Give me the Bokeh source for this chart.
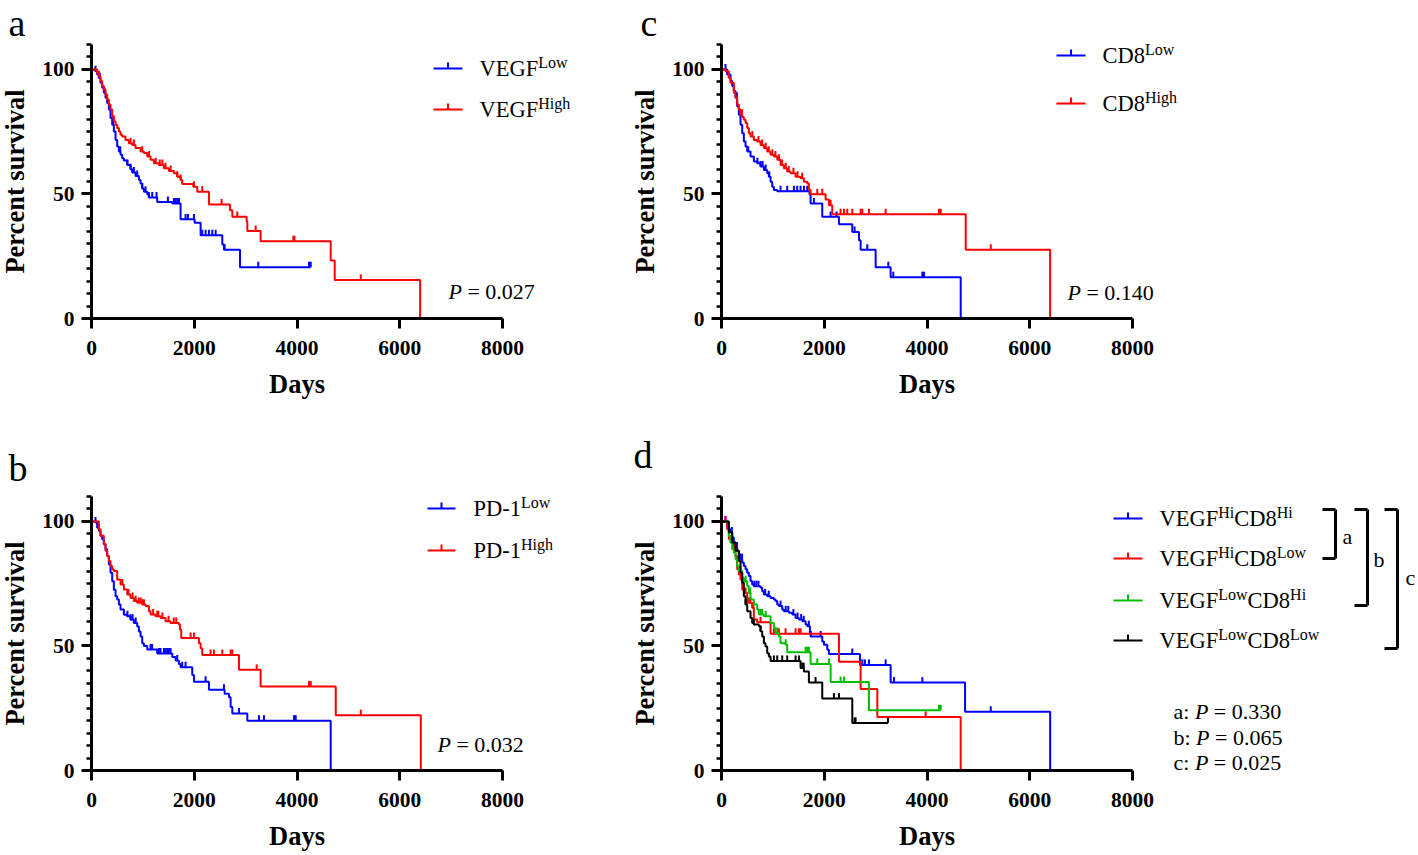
import numpy as np
from bokeh.plotting import figure
from bokeh.models import Range1d, FixedTicker, Label, Arrow
from bokeh.layouts import row, column
from bokeh.embed import file_html
from bokeh.resources import INLINE

# ------------------------------------------------------------------ data
# Panel a : VEGF
vegf_low_t = [0, 78, 110, 143, 175, 208, 240, 273, 305, 338, 370, 403, 435, 468, 500, 533, 565, 597, 630, 695,
              760, 792, 857, 922, 955, 987, 1020, 1085, 1117, 1279, 1572, 1734, 2007, 2124, 2546, 2578, 2890, 4267]
vegf_low_s = [100, 99.3, 98.0, 96.6, 94.6, 92.6, 90.6, 88.6, 86.5, 83.9, 80.5, 77.8, 75.1, 71.7, 69.1, 67.0, 65.7, 64.3, 63.4, 61.6,
              59.9, 58.6, 57.2, 55.6, 54.2, 52.2, 50.9, 49.9, 48.6, 46.8, 46.2, 39.8, 38.4, 33.4, 29.7, 27.6, 20.6, 20.6]
vegf_low_c = [78, 160, 250, 420, 560, 700, 760, 825, 890, 987, 1052, 1117, 1182, 1266, 1487, 1604, 1636, 1669, 1701,
              1831, 1877, 1994, 2156, 2221, 2286, 2351, 2416, 2591, 3247, 4234, 4267]
vegf_high_t = [0, 110, 143, 175, 208, 240, 273, 305, 338, 370, 403, 435, 468, 500, 533, 565, 597, 662, 727, 792,
               857, 955, 1020, 1085, 1149, 1214, 1312, 1409, 1507, 1604, 1669, 1734, 1766, 1981, 2059, 2286, 2695, 2741, 3020, 3033,
               3292, 4656, 4734, 6397]
vegf_high_s = [100, 98.6, 97.3, 95.3, 93.3, 91.9, 89.9, 87.9, 85.9, 83.9, 81.2, 79.1, 77.8, 76.5, 75.1, 73.8, 73.1, 71.7, 70.4, 69.7,
               68.4, 67.0, 66.4, 65.0, 63.7, 62.3, 61.6, 60.3, 59.2, 58.3, 56.9, 55.6, 54.0, 52.9, 50.9, 45.8, 43.5, 40.8, 38.8, 35.1,
               31.0, 23.3, 15.5, 0]
vegf_high_c = [143, 435, 760, 825, 987, 1120, 1250, 1330, 1380, 1440, 1540, 1669, 1734, 1994, 2156, 2533, 2838, 3195,
               3930, 3950, 5241]

# Panel b : PD-1
pd1_low_t = [0, 78, 110, 143, 175, 208, 240, 273, 305, 338, 370, 403, 435, 468, 500, 533, 565, 630, 695, 760,
             825, 890, 922, 955, 987, 1020, 1085, 1279, 1572, 1637, 1701, 1734, 1961, 1994, 2286, 2591, 2676, 2708, 2741, 3033,
             4656]
pd1_low_s = [100, 99.6, 97.5, 96.2, 94.2, 92.8, 90.8, 88.8, 86.1, 82.7, 79.4, 76.0, 72.6, 70.0, 68.6, 66.6, 64.6, 62.5, 61.9, 60.5,
             59.2, 57.8, 55.8, 53.8, 51.1, 50.0, 48.6, 47.0, 45.6, 44.2, 42.8, 41.5, 38.3, 35.6, 32.4, 30.8, 29.4, 25.5, 22.9, 20.0,
             0]
pd1_low_c = [78, 700, 760, 800, 860, 1150, 1180, 1312, 1344, 1409, 1442, 1474, 1507, 1539, 1669, 1766, 1831, 2221, 2578,
             2870, 3260, 3357, 3942, 3974]
pd1_high_t = [0, 143, 175, 240, 273, 305, 338, 370, 403, 435, 500, 565, 630, 695, 760, 825, 890, 987, 1052, 1117,
              1149, 1247, 1344, 1442, 1539, 1701, 1721, 1747, 2091, 2124, 2156, 2870, 3292, 4754, 6410]
pd1_high_s = [100, 96.9, 94.2, 90.9, 88.2, 86.1, 84.1, 82.1, 80.8, 80.1, 76.7, 74.7, 72.7, 70.7, 69.3, 68.0, 67.3, 66.6, 66.0, 63.9,
              62.6, 61.9, 61.2, 59.9, 59.2, 58.6, 56.5, 53.2, 51.1, 49.1, 46.4, 40.4, 33.7, 22.2, 0]
pd1_high_c = [143, 600, 720, 800, 860, 920, 960, 1000, 1020, 1200, 1280, 1300, 1380, 1500, 1600, 1650, 1929, 1994,
              2318, 2383, 2546, 2708, 2741, 3215, 4234, 4267, 5241]

# Panel c : CD8
cd8_low_t = [0, 110, 175, 208, 240, 273, 305, 338, 370, 403, 435, 468, 500, 565, 630, 695, 760, 825, 890, 922,
             955, 987, 1020, 1085, 1714, 1734, 1961, 2286, 2546, 2676, 2708, 3000, 3292, 4656]
cd8_low_s = [100, 98.0, 95.3, 93.3, 91.3, 88.6, 85.2, 81.8, 77.8, 74.4, 71.1, 69.1, 67.0, 65.0, 63.0, 62.3, 61.0, 59.6, 58.3, 56.9,
             54.9, 52.9, 51.6, 51.1, 49.9, 46.2, 40.8, 37.8, 34.7, 31.4, 27.6, 20.6, 16.6, 0]
cd8_low_c = [78, 300, 520, 700, 760, 800, 860, 930, 1150, 1279, 1409, 1474, 1539, 1604, 1669, 1799, 2124, 2240, 2591,
             2838, 3247, 3344, 3909, 3942]
cd8_high_t = [0, 78, 143, 175, 240, 273, 305, 338, 370, 403, 435, 468, 500, 533, 565, 630, 695, 760, 825, 890,
              955, 1020, 1085, 1149, 1214, 1279, 1344, 1442, 1539, 1604, 1669, 1701, 1734, 2026, 2091, 2156, 4754, 6397]
cd8_high_s = [100, 99.3, 96.6, 94.6, 90.6, 88.6, 85.9, 83.9, 81.8, 80.9, 79.8, 78.5, 76.5, 74.4, 73.1, 71.7, 71.1, 69.7, 68.4, 67.0,
              65.7, 65.0, 63.7, 61.6, 60.3, 59.0, 58.3, 56.9, 56.3, 54.9, 54.2, 51.6, 49.9, 47.8, 45.5, 41.9, 27.6, 0]
cd8_high_c = [143, 400, 600, 720, 790, 860, 920, 990, 1050, 1120, 1180, 1250, 1310, 1400, 1480, 1570, 1864, 1961, 2124,
              2318, 2383, 2448, 2546, 2708, 2741, 2870, 3195, 4234, 4267, 5241]

# Panel d : VEGF x CD8
hi_hi_t = [0, 110, 143, 175, 208, 240, 273, 305, 338, 370, 403, 435, 468, 500, 533, 565, 597, 630, 760, 792,
           825, 890, 955, 1020, 1052, 1085, 1117, 1182, 1214, 1312, 1377, 1442, 1507, 1572, 1637, 1669, 1721, 1734, 1961, 1994,
           2059, 2091, 2695, 3292, 4741, 6397]
hi_hi_s = [100, 98.3, 96.9, 95.6, 93.5, 91.5, 89.5, 88.2, 86.8, 84.8, 83.5, 82.1, 80.8, 79.4, 78.1, 76.1, 74.7, 74.0, 73.4, 72.0,
           70.7, 70.0, 69.3, 68.6, 68.0, 66.6, 66.0, 64.6, 63.9, 63.3, 62.6, 61.2, 60.6, 59.9, 58.6, 57.9, 55.2, 53.8, 51.8, 50.5,
           48.5, 46.8, 42.4, 35.3, 23.6, 0]
hi_hi_c = [78, 200, 300, 400, 640, 680, 720, 850, 920, 1150, 1250, 1300, 1400, 1480, 1550, 1600, 1700, 1740, 1930,
           2546, 2741, 2790, 2870, 3195, 3357, 3909, 5241]
hi_low_t = [0, 110, 143, 208, 240, 273, 305, 338, 370, 403, 435, 500, 597, 630, 695, 955, 2286, 2708, 3033, 4656]
hi_low_s = [100, 96.9, 92.9, 90.9, 89.5, 86.1, 80.8, 78.7, 76.7, 72.7, 71.3, 67.3, 65.3, 60.6, 59.5, 54.9, 43.7, 32.7, 21.5, 0]
hi_low_c = [78, 400, 470, 530, 560, 620, 760, 1020, 1117, 1247, 1442, 1507, 1539, 3974]
low_hi_t = [0, 143, 175, 208, 240, 273, 305, 338, 403, 435, 500, 533, 565, 630, 695, 727, 825, 955, 1020, 1052,
            1117, 1149, 1247, 1279, 1734, 2124, 2870, 4267]
low_hi_s = [100, 94.2, 91.5, 88.8, 87.5, 84.8, 82.1, 80.1, 77.4, 76.0, 74.0, 71.3, 68.6, 66.6, 64.6, 62.6, 61.9, 59.2, 57.2, 55.2,
            53.8, 51.1, 50.5, 47.5, 42.8, 35.5, 24.2, 24.2]
low_hi_c = [370, 470, 560, 760, 790, 860, 1085, 1250, 1637, 1669, 1701, 1864, 2091, 2318, 2383, 4234, 4267]
low_low_t = [0, 143, 208, 273, 338, 370, 403, 435, 468, 500, 565, 597, 630, 727, 760, 792, 825, 857, 890, 922,
             955, 1539, 1604, 1701, 1961, 2546, 3241]
low_low_s = [100, 95.6, 91.5, 88.2, 84.1, 79.4, 75.4, 70.0, 66.6, 63.9, 61.2, 59.2, 58.6, 57.9, 55.9, 53.8, 51.1, 49.8, 47.1, 45.8,
             44.0, 41.1, 39.7, 35.3, 28.9, 19.1, 19.1]
low_low_c = [470, 630, 760, 1020, 1085, 1182, 1279, 1442, 1507, 1572, 1600, 1831, 2188, 2286, 2591, 2610, 3241]

x_ticks = [0, 2000, 4000, 6000, 8000]
y_ticks = [0, 50, 100]
y_minor = list(range(0, 111, 5))
p_texts_abc = {"a": "0.027", "b": "0.032", "c": "0.140"}
p_texts_d = [("a", "0.330"), ("b", "0.065"), ("c", "0.025")]

BLUE, RED, GREEN, BLACK = "#0000FF", "#FF0000", "#00BF00", "#000000"
FONT = "Liberation Serif"
FW, FH = 411, 274          # axis extents in px (0..8000, 0..110)
XMAX, YMAX = 8000, 110
TICK = 2.2                 # censor tick height (percent units)
BASE_FIX = 0.34            # label baseline correction (em)
LETTER = 38                # panel letter font size

# Times-Roman advance widths (1/1000 em) for superscript placement
ADV = {'V': 722, 'E': 611, 'G': 722, 'F': 556, 'C': 667, 'D': 722, '8': 500, 'P': 556, '-': 333, '1': 500,
       'H': 722, 'i': 278, 'L': 611, 'o': 500, 'w': 722, 'g': 500, 'h': 500}


def tw(s, size):
    return sum(ADV[c] for c in s) * size / 1000.0


class Panel:
    """A figure whose frame fills its whole canvas; axes are fixed at x=0 / y=0."""

    def __init__(self, x0, x1, y0, y1, axis_x, axis_y):
        self.left, self.bottom = axis_x - x0, axis_y - y0     # axis origin inside the canvas
        w, h = x1 - x0, y1 - y0
        p = figure(width=w, height=h, output_backend="svg", toolbar_location=None,
                   x_range=Range1d(self.X(0), self.X(w)), y_range=Range1d(self.Y(h), self.Y(0)),
                   min_border_left=0, min_border_right=0, min_border_top=0, min_border_bottom=0)
        p.outline_line_color = None
        p.xgrid.visible = False
        p.ygrid.visible = False
        p.background_fill_color = "white"
        p.border_fill_color = "white"
        p.xaxis.ticker = FixedTicker(ticks=x_ticks)
        p.yaxis.ticker = FixedTicker(ticks=y_ticks, minor_ticks=y_minor)
        p.xaxis.axis_label = "Days"
        p.yaxis.axis_label = "Percent survival"
        p.xaxis.fixed_location = 0
        p.yaxis.fixed_location = 0
        p.xaxis.bounds = (0, XMAX)
        p.yaxis.bounds = (0, YMAX)
        for ax in (p.xaxis[0], p.yaxis[0]):
            ax.axis_line_width = 3
            ax.major_tick_line_width = 3
            ax.major_tick_in = 0
            ax.major_tick_out = 10
            ax.minor_tick_in = 0
            ax.minor_tick_out = 5
            ax.minor_tick_line_width = 2.5
            ax.major_label_text_font = FONT
            ax.major_label_text_font_style = "bold"
            ax.major_label_text_font_size = "21.5px"
            ax.major_label_text_color = "black"
            ax.axis_label_text_font = FONT
            ax.axis_label_text_font_style = "bold"
            ax.axis_label_text_font_size = "26.5px"
            ax.axis_label_text_color = "black"
        p.xaxis.minor_tick_line_color = None
        p.xaxis.major_label_standoff = 12
        p.xaxis.axis_label_standoff = 11
        p.yaxis.major_label_standoff = 7
        p.yaxis.axis_label_standoff = 9
        self.p = p
        self.ox, self.oy = x0, y0

    # canvas px (relative to this figure) -> data
    def X(self, xs):
        return (xs - self.left) / FW * XMAX

    def Y(self, ys):
        return (self.bottom - ys) / FH * YMAX

    # page px -> data
    def PX(self, xs):
        return self.X(xs - self.ox)

    def PY(self, ys):
        return self.Y(ys - self.oy)

    def km(self, t, s, cens, color):
        self.p.step(x=t, y=s, mode="after", line_color=color, line_width=2)
        t_arr = np.asarray(t, dtype=float)
        s_arr = np.asarray(s, dtype=float)
        c = np.asarray(cens, dtype=float)
        idx = np.searchsorted(t_arr, c, side="right") - 1
        cy = s_arr[idx]
        self.p.segment(x0=c, y0=cy, x1=c, y1=cy + TICK, line_color=color, line_width=2)

    def text(self, xs, ys, txt, size, style="normal", x_offset=0):
        # ys is the wanted alphabetic baseline (page px)
        self.p.add_layout(Label(x=self.PX(xs), y=self.PY(ys - BASE_FIX * size), text=txt, x_offset=x_offset,
                                text_font=FONT, text_font_size=f"{size}px", text_font_style=style,
                                text_align="left", text_baseline="alphabetic", text_color="black"))

    def line(self, x0, y0, x1, y1, color="black", width=2):
        self.p.add_layout(Arrow(start=None, end=None, x_start=self.PX(x0), y_start=self.PY(y0),
                                x_end=self.PX(x1), y_end=self.PY(y1), line_color=color, line_width=width))

    def legend_sample(self, x0, x1, ys, color):
        self.line(x0, ys, x1, ys, color, 2)
        xm = (x0 + x1) / 2
        self.line(xm, ys, xm, ys - 6, color, 2)

    def p_value(self, xs, ys, prefix, val, size=22):
        off = 0
        if prefix:
            self.text(xs, ys, prefix + ":", size)
            off = ({"a": 444, "b": 500, "c": 444}[prefix] + 278 + 250) * size / 1000
        self.text(xs, ys, "P", size, style="italic", x_offset=off)
        self.text(xs, ys, "= " + val, size, x_offset=off + (611 + 250) * size / 1000)

    def sup_label(self, xs, ys, parts, main=22.5, sup=16):
        off = 0
        for txt, is_sup in parts:
            if is_sup:
                self.text(xs, ys - 9, txt, sup, x_offset=off)
                off += tw(txt, sup)
            else:
                self.text(xs, ys, txt, main, x_offset=off)
                off += tw(txt, main)


# ------------------------------------------------------------------ layout
SPLIT_X, SPLIT_Y, W, H = 630, 430, 1418, 854
A = Panel(0, SPLIT_X, 0, SPLIT_Y, 91, 318)
C = Panel(SPLIT_X, W, 0, SPLIT_Y, 721, 318)
B = Panel(0, SPLIT_X, SPLIT_Y, H, 91, 770)
D = Panel(SPLIT_X, W, SPLIT_Y, H, 721, 770)

# curves
A.km(vegf_low_t, vegf_low_s, vegf_low_c, BLUE)
A.km(vegf_high_t, vegf_high_s, vegf_high_c, RED)
B.km(pd1_low_t, pd1_low_s, pd1_low_c, BLUE)
B.km(pd1_high_t, pd1_high_s, pd1_high_c, RED)
C.km(cd8_low_t, cd8_low_s, cd8_low_c, BLUE)
C.km(cd8_high_t, cd8_high_s, cd8_high_c, RED)
D.km(hi_hi_t, hi_hi_s, hi_hi_c, BLUE)
D.km(hi_low_t, hi_low_s, hi_low_c, RED)
D.km(low_hi_t, low_hi_s, low_hi_c, GREEN)
D.km(low_low_t, low_low_s, low_low_c, BLACK)

# panel letters (kept fully inside the canvas)
A.text(8, 35, "a", LETTER)
C.text(640, 35, "c", LETTER)
B.text(8, 480, "b", LETTER)
D.text(633, 467, "d", LETTER)

# legends
for P_, name, x0, x1, xt, rows in [
        (A, "VEGF", 433, 462, 479, (68, 109)),
        (B, "PD-1", 427, 455, 473, (508, 550)),
        (C, "CD8", 1056, 1085, 1102, (55, 103))]:
    for (ys, color, sup) in zip(rows, (BLUE, RED), ("Low", "High")):
        P_.legend_sample(x0, x1, ys, color)
        P_.sup_label(xt, ys + 8, [(name, False), (sup, True)])

d_rows = [(518, BLUE, "Hi", "Hi"), (558, RED, "Hi", "Low"), (600, GREEN, "Low", "Hi"), (640, BLACK, "Low", "Low")]
for ys, color, s1, s2 in d_rows:
    D.legend_sample(1113, 1142, ys, color)
    D.sup_label(1159, ys + 8, [("VEGF", False), (s1, True), ("CD8", False), (s2, True)])

# brackets
for (xa, xv, yb, lx, ly, letter) in [(1322, 1335, 558, 1342, 543, "a"),
                                     (1354, 1367, 605, 1373, 566, "b"),
                                     (1384, 1397, 648, 1405, 584, "c")]:
    D.line(xa, 509, xv, 509, width=3)
    D.line(xv, 509, xv, yb, width=3)
    D.line(xa, yb, xv, yb, width=3)
    D.text(lx, ly, letter, 22)

# p values
A.p_value(448, 298, None, p_texts_abc["a"])
B.p_value(437, 751, None, p_texts_abc["b"])
C.p_value(1067, 299, None, p_texts_abc["c"])
for (lab, val), ys in zip(p_texts_d, (718, 744, 769)):
    D.p_value(1173, ys, lab, val)

layout = column(row(A.p, C.p), row(B.p, D.p))
open("out.html", "w").write(file_html(layout, INLINE))
